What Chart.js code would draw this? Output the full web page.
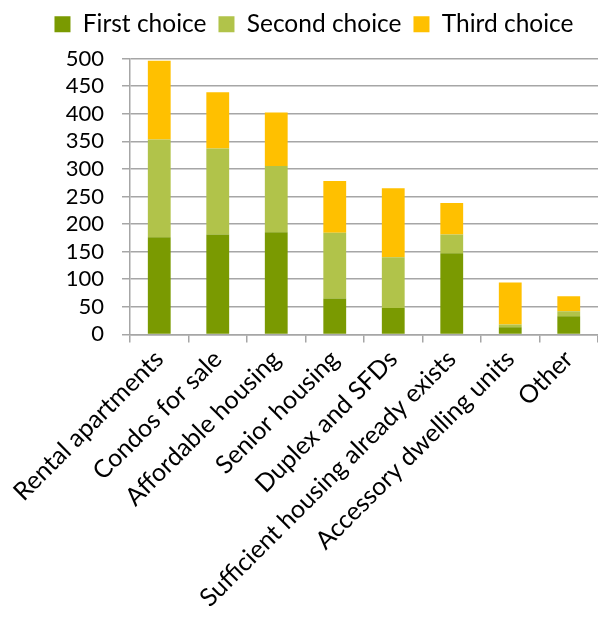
<!DOCTYPE html>
<html>
<head>
<meta charset="utf-8">
<script src="https://cdn.jsdelivr.net/npm/chart.js@4/dist/chart.umd.min.js"></script>
<style>
  html, body { margin: 0; padding: 0; background: #fff; }
  #wrap { width: 598px; height: 624px; }
</style>
</head>
<body>
<div id="wrap"><canvas id="housingChart"></canvas></div>
<script>
// housing preference survey - stacked bars

const categories = [
    'Rental apartments', 'Condos for sale', 'Affordable housing', 'Senior housing',
    'Duplex and SFDs', 'Sufficient housing already exists', 'Accessory dwelling units', 'Other'
];
const firstChoice  = [176, 181, 185, 65, 48, 147, 13, 33];
const secondChoice = [177, 156, 120, 119, 92, 34, 5, 9];
const thirdChoice  = [143, 102, 97, 94, 125, 57, 76, 27];
const yTicks = [0, 50, 100, 150, 200, 250, 300, 350, 400, 450, 500];

const fontFamily = 'Lato, "Open Sans", sans-serif';

// a bit more room under the legend
const legendGap = {
    id: 'legendGap',
    beforeInit(chart) {
        const origFit = chart.legend.fit;
        chart.legend.fit = function () {
            origFit.bind(chart.legend)();
            this.height += 12;
        };
    }
};

const ctx = document.getElementById('housingChart').getContext('2d');

new Chart(ctx, {
    type: 'bar',
    data: {
        labels: categories,
        datasets: [
            { label: 'First choice', data: firstChoice, backgroundColor: '#7a9a01' },
            { label: 'Second choice', data: secondChoice, backgroundColor: '#b1c34a' },
            { label: 'Third choice', data: thirdChoice, backgroundColor: '#ffc000' }
        ]
    },
    options: {
        responsive: true,
        maintainAspectRatio: false,
        animation: false,
        layout: { padding: { left: 30, right: 0, top: 0, bottom: 9 } },
        datasets: {
            bar: { barPercentage: 0.39, categoryPercentage: 1.0 }
        },
        plugins: {
            tooltip: { enabled: false },
            legend: {
                position: 'top',
                labels: {
                    color: '#000',
                    font: { family: fontFamily, size: 24.5 },
                    boxWidth: 16,
                    boxHeight: 16,
                    padding: 12
                }
            }
        },
        scales: {
            x: {
                stacked: true,
                grid: {
                    offset: true,
                    drawOnChartArea: false,
                    color: '#a6a6a6',
                    lineWidth: 1.5,
                    tickLength: 8
                },
                border: { color: '#a6a6a6', width: 1.5 },
                ticks: {
                    color: '#000',
                    font: { family: fontFamily, size: 25 },
                    minRotation: 45,
                    maxRotation: 45,
                    autoSkip: false,
                    padding: 2
                }
            },
            y: {
                stacked: true,
                min: 0,
                max: 500,
                afterBuildTicks: axis => {
                    axis.ticks = yTicks.map(v => ({ value: v }));
                },
                afterFit: axis => {
                    axis.width = 100;
                },
                grid: {
                    color: '#a6a6a6',
                    lineWidth: 1.5,
                    tickLength: 8
                },
                border: { color: '#a6a6a6', width: 1.5 },
                ticks: {
                    color: '#000',
                    font: { family: fontFamily, size: 22 },
                    padding: 18,
                    autoSkip: false
                }
            }
        }
    },
    plugins: [legendGap]
});
</script>
</body>
</html>
